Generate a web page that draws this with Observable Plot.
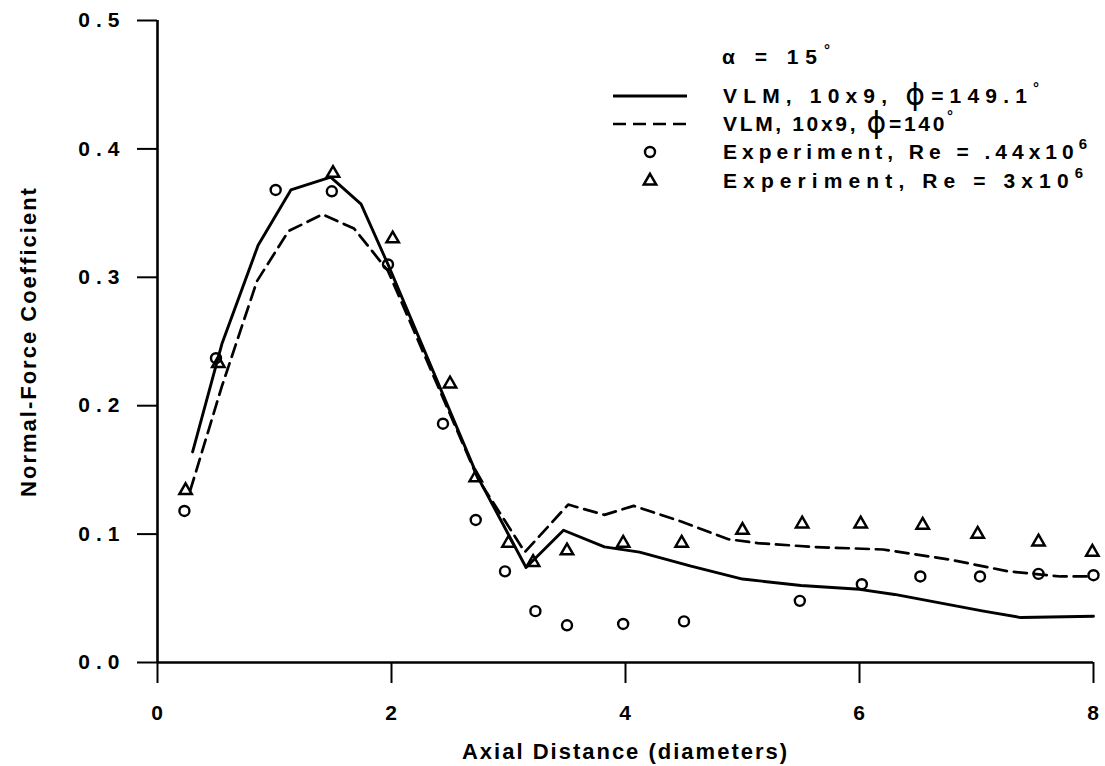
<!DOCTYPE html>
<html><head><meta charset="utf-8">
<script src="https://cdn.jsdelivr.net/npm/d3@7"></script>
<script src="https://cdn.jsdelivr.net/npm/@observablehq/plot@0.6"></script>
<style>
body{margin:0;background:#fff;}
#chart{position:relative;width:1105px;height:766px;}
svg text{font-family:"Liberation Sans",Arial,Helvetica,sans-serif;font-weight:bold;}
g[aria-label="y-axis tick label"] text{letter-spacing:6px;}
g[aria-label="x-axis tick label"] text{letter-spacing:1px;}
g[aria-label="x-axis label"] text, g[aria-label="y-axis label"] text{font-size:22px;letter-spacing:2px;}
</style></head><body><div id="chart"></div>
<script>
// ---- data ----
const xTicks = [0, 2, 4, 6, 8];
const yTicks = [0, 0.1, 0.2, 0.3, 0.4, 0.5];
const xTitle = "Axial Distance (diameters)";
const yTitle = "Normal-Force Coefficient";

// VLM, 10x9, phi = 149.1 (solid)
const solidX = [0.30, 0.55, 0.86, 1.14, 1.48, 1.74, 1.97, 2.74, 3.15, 3.47, 3.82, 4.12, 4.56, 5.00, 5.50, 6.00, 6.30, 7.06, 7.38, 8.00];
const solidY = [0.164, 0.248, 0.325, 0.368, 0.378, 0.357, 0.310, 0.144, 0.074, 0.103, 0.090, 0.086, 0.075, 0.065, 0.060, 0.057, 0.053, 0.040, 0.035, 0.036];
// VLM, 10x9, phi = 140 (dashed)
const dashX = [0.28, 0.55, 0.85, 1.12, 1.41, 1.68, 1.97, 2.74, 3.14, 3.51, 3.82, 4.07, 4.47, 4.88, 5.13, 5.60, 6.20, 6.78, 7.27, 7.72, 8.00];
const dashY = [0.134, 0.215, 0.297, 0.336, 0.349, 0.338, 0.305, 0.143, 0.086, 0.123, 0.115, 0.122, 0.110, 0.096, 0.093, 0.090, 0.088, 0.080, 0.071, 0.067, 0.067];
// Experiment, Re = .44x10^6 (circles)
const circX = [0.23, 0.50, 1.01, 1.49, 1.97, 2.44, 2.72, 2.97, 3.23, 3.50, 3.98, 4.50, 5.49, 6.02, 6.52, 7.03, 7.53, 8.00];
const circY = [0.118, 0.237, 0.368, 0.367, 0.310, 0.186, 0.111, 0.071, 0.040, 0.029, 0.030, 0.032, 0.048, 0.061, 0.067, 0.067, 0.069, 0.068];
// Experiment, Re = 3x10^6 (triangles)
const triX = [0.24, 0.52, 1.50, 2.01, 2.50, 2.72, 3.00, 3.21, 3.50, 3.98, 4.48, 5.00, 5.51, 6.01, 6.54, 7.01, 7.53, 7.99];
const triY = [0.134, 0.233, 0.381, 0.330, 0.217, 0.144, 0.093, 0.078, 0.087, 0.093, 0.093, 0.103, 0.108, 0.108, 0.107, 0.100, 0.094, 0.086];

const legendTitle = ["α = 15", "°"];
const legendLabels = [
  ["VLM, 10x9, ", "ϕ", "=149.1", "°"],
  ["VLM, 10x9, ", "ϕ", "=140", "°"],
  ["Experiment, Re = .44x10", "", "", "6"],
  ["Experiment, Re = 3x10", "", "", "6"]
];

const zip = (xs, ys) => xs.map((x, i) => ({x, y: ys[i]}));
const solid = zip(solidX, solidY);
const dashed = zip(dashX, dashY);
const circles = zip(circX, circY);
const tris = zip(triX, triY);

const plot = Plot.plot({
  width: 1105, height: 766,
  marginLeft: 157, marginRight: 12, marginTop: 20, marginBottom: 104,
  style: {fontFamily: '"Liberation Sans", Arial, sans-serif', fontSize: "21px", fontWeight: "bold", background: "white", color: "black", overflow: "visible"},
  x: {domain: [0, 8]},
  y: {domain: [0, 0.5]},
  marks: [
    Plot.axisX({ticks: xTicks, tickSize: 21, tickPadding: 22, strokeWidth: 2, fontSize: 21, tickFormat: d => String(d),
      label: xTitle, labelAnchor: "center", labelOffset: 96, labelArrow: "none"}),
    Plot.axisY({ticks: yTicks, tickSize: 20, tickPadding: 12, strokeWidth: 2, fontSize: 21, tickFormat: d3.format(".1f"),
      label: yTitle, labelAnchor: "center", labelOffset: 137, labelArrow: "none"}),
    Plot.ruleX([0], {strokeWidth: 2.6}),
    Plot.ruleY([0], {strokeWidth: 2.6}),
    Plot.line(solid, {x: "x", y: "y", stroke: "black", strokeWidth: 2.9}),
    Plot.line(dashed, {x: "x", y: "y", stroke: "black", strokeWidth: 2.7, strokeDasharray: "13,7"}),
    Plot.dot(circles, {x: "x", y: "y", r: 5, symbol: "circle", stroke: "black", strokeWidth: 2.4, fill: "none"}),
    Plot.dot(tris, {x: "x", y: "y", r: 4.6, symbol: "triangle", stroke: "black", strokeWidth: 2.5, fill: "none"})
  ]
});
document.getElementById("chart").appendChild(plot);

// ---- legend (overlay) ----
const svg = d3.select(plot);
const lg = svg.append("g").attr("font-size", 21).attr("text-anchor", "start");
const tx = 723;
const t0 = lg.append("text").attr("x", 722).attr("y", 57).attr("dy", "0.35em")
  .attr("textLength", 108).attr("lengthAdjust", "spacing");
t0.append("tspan").text(legendTitle[0]);
t0.append("tspan").attr("dy", -9).attr("font-size", 15).text(legendTitle[1]);

const rows = [96, 124, 152, 181];
const widths = [316, 230, 364, 360];
lg.append("line").attr("x1", 613).attr("x2", 687).attr("y1", rows[0]).attr("y2", rows[0]).attr("stroke", "black").attr("stroke-width", 2.8);
lg.append("line").attr("x1", 613).attr("x2", 687).attr("y1", rows[1]).attr("y2", rows[1]).attr("stroke", "black").attr("stroke-width", 2.6).attr("stroke-dasharray", "13,7");
lg.append("circle").attr("cx", 650).attr("cy", rows[2]).attr("r", 5).attr("fill", "none").attr("stroke", "black").attr("stroke-width", 2.4);
lg.append("path").attr("transform", `translate(650,${rows[3]})`).attr("d", d3.symbol(d3.symbolTriangle, Math.PI * 4.6 * 4.6)()).attr("fill", "none").attr("stroke", "black").attr("stroke-width", 2.5);

legendLabels.forEach((parts, i) => {
  const t = lg.append("text").attr("x", tx).attr("y", rows[i]).attr("dy", "0.35em")
    .attr("textLength", widths[i]).attr("lengthAdjust", "spacing");
  t.append("tspan").text(parts[0]);
  if (parts[1]) t.append("tspan").attr("font-size", 30).attr("font-family", "DejaVu Sans").attr("font-weight", "normal").attr("dy", 2).text(parts[1]);
  if (parts[2]) t.append("tspan").attr("dy", parts[1] ? -2 : 0).text(parts[2]);
  t.append("tspan").attr("dy", -10).attr("font-size", 15).text(parts[3]);
});
</script>
</body></html>
